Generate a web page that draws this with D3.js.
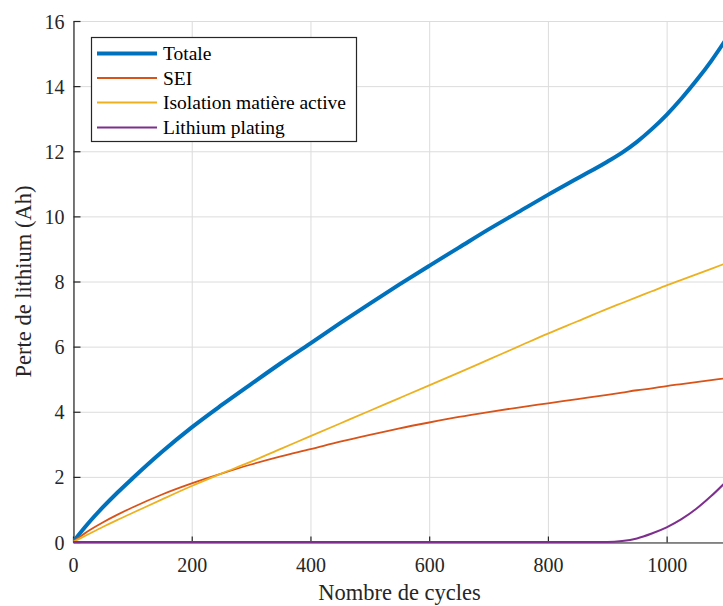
<!DOCTYPE html>
<html>
<head>
<meta charset="utf-8">
<script src="https://cdn.jsdelivr.net/npm/d3@7"></script>
<style>
  html, body { margin: 0; padding: 0; background: #fff; }
  svg { display: block; }
  text { font-family: "Liberation Serif", "Times New Roman", serif; }
</style>
</head>
<body>
<svg id="chart" width="723" height="606"></svg>
<script>
// ---------- data ----------
const cycles = [0, 25, 50, 75, 100, 150, 200, 250, 300, 350, 400, 450, 500, 550, 600,
  650, 700, 750, 800, 850, 900, 925, 950, 975, 1000, 1025, 1050, 1075, 1100];
const totale = [0, 0.56, 1.06, 1.52, 1.95, 2.77, 3.52, 4.2, 4.85, 5.49, 6.1, 6.72, 7.32, 7.91, 8.48,
  9.04, 9.6, 10.13, 10.66, 11.17, 11.68, 11.96, 12.29, 12.68, 13.12, 13.62, 14.17, 14.77, 15.44];
const sei = [0, 0.33, 0.6, 0.84, 1.06, 1.46, 1.8, 2.1, 2.38, 2.63, 2.85, 3.08, 3.29, 3.49, 3.67,
  3.84, 3.99, 4.13, 4.26, 4.39, 4.52, 4.59, 4.66, 4.72, 4.79, 4.85, 4.91, 4.97, 5.03];
const isolation = [0, 0.23, 0.46, 0.68, 0.89, 1.31, 1.72, 2.1, 2.47, 2.86, 3.25, 3.64, 4.03, 4.42, 4.81,
  5.2, 5.6, 6.0, 6.4, 6.78, 7.16, 7.34, 7.52, 7.7, 7.88, 8.05, 8.22, 8.39, 8.56];
const plating = [0, 0, 0, 0, 0, 0, 0, 0, 0, 0, 0, 0, 0, 0, 0,
  0, 0, 0, 0, 0, 0, 0.03, 0.11, 0.26, 0.45, 0.7, 1.02, 1.41, 1.85];
const seriesNames = ["Totale", "SEI", "Isolation matière active", "Lithium plating"];
const seriesColors = ["#0072BD", "#D95319", "#EDB120", "#7E2F8E"];
const seriesWidths = [4, 1.8, 1.8, 2];
const xTicks = [0, 200, 400, 600, 800, 1000];
const yTicks = [0, 2, 4, 6, 8, 10, 12, 14, 16];
const xLabel = "Nombre de cycles";
const yLabel = "Perte de lithium (Ah)";

// ---------- layout ----------
const svg = d3.select("#chart");
const L = 73, R = 726, T = 21, B = 542;
const x = d3.scaleLinear().domain([0, 1100]).range([L, R]);
const y = d3.scaleLinear().domain([0, 16]).range([B, T]);
const axisColor = "#262626";

svg.append("rect").attr("width", 723).attr("height", 606).attr("fill", "#fff");

// grid
const grid = svg.append("g");
grid.selectAll("line.gx").data(xTicks).join("line")
  .attr("x1", d => x(d) + 0.5).attr("x2", d => x(d) + 0.5)
  .attr("y1", T).attr("y2", B)
  .attr("stroke", "#dcdcdc").attr("stroke-width", 1);
grid.selectAll("line.gy").data(yTicks).join("line")
  .attr("y1", d => y(d) + 0.5).attr("y2", d => y(d) + 0.5)
  .attr("x1", L).attr("x2", R)
  .attr("stroke", "#dcdcdc").attr("stroke-width", 1);

// axes
const xAxis = d3.axisBottom(x).tickValues(xTicks).tickFormat(d3.format("d"))
  .tickSizeInner(-6).tickSizeOuter(0).tickPadding(15);
const yAxis = d3.axisLeft(y).tickValues(yTicks).tickFormat(d3.format("d"))
  .tickSizeInner(-7).tickSizeOuter(0).tickPadding(9);
const gx = svg.append("g").attr("transform", `translate(0,${B + 0.5})`).call(xAxis);
const gy = svg.append("g").attr("transform", `translate(${L + 0.5},0)`).call(yAxis);
[gx, gy].forEach(g => {
  g.attr("font-family", null);
  g.select(".domain").attr("stroke", axisColor).attr("stroke-width", 1.2);
  g.selectAll(".tick line").attr("stroke", axisColor).attr("stroke-width", 1.2);
  g.selectAll(".tick text").attr("fill", axisColor)
    .style("font-family", "'Liberation Serif', serif").style("font-size", "20px");
});
gx.selectAll(".tick text").attr("dy", "0.71em");
gy.selectAll(".tick text").attr("dy", "0.35em");

// clip
svg.append("clipPath").attr("id", "clip").append("rect")
  .attr("x", L).attr("y", T - 3).attr("width", R - L).attr("height", B - T + 6);

// lines
const seriesData = [totale, sei, isolation, plating];
const line = d3.line().x((d, i) => x(cycles[i])).y(d => y(d)).curve(d3.curveMonotoneX);
const plot = svg.append("g").attr("clip-path", "url(#clip)");
[0, 1, 2, 3].forEach(k => {
  plot.append("path")
    .datum(seriesData[k])
    .attr("d", line)
    .attr("fill", "none")
    .attr("stroke", seriesColors[k])
    .attr("stroke-width", seriesWidths[k])
    .attr("stroke-linejoin", "round");
});

// axis labels
svg.append("text").attr("x", (L + R) / 2).attr("y", 600)
  .attr("text-anchor", "middle").attr("fill", axisColor)
  .style("font-size", "22.5px").text(xLabel);
svg.append("text")
  .attr("transform", `translate(31,${(T + B) / 2}) rotate(-90)`)
  .attr("text-anchor", "middle").attr("fill", axisColor)
  .style("font-size", "22.5px").text(yLabel);

// legend
const lg = svg.append("g");
lg.append("rect").attr("x", 91.5).attr("y", 37.5).attr("width", 265).attr("height", 104)
  .attr("fill", "#fff").attr("stroke", axisColor).attr("stroke-width", 1.2);
const rowsY = [53.5, 78, 102.5, 127.5];
seriesNames.forEach((name, k) => {
  lg.append("line").attr("x1", 97).attr("x2", 157).attr("y1", rowsY[k]).attr("y2", rowsY[k])
    .attr("stroke", seriesColors[k]).attr("stroke-width", seriesWidths[k]);
  lg.append("text").attr("x", 163).attr("y", rowsY[k]).attr("dy", "0.35em")
    .attr("fill", "#000").style("font-size", "19.5px").text(name);
});
</script>
</body>
</html>
